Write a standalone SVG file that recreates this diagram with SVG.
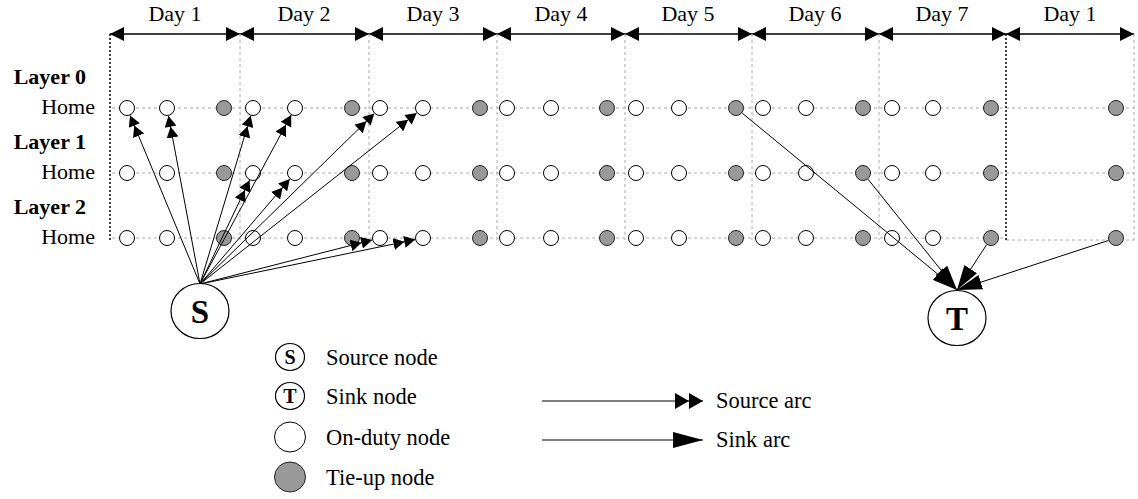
<svg xmlns="http://www.w3.org/2000/svg" width="1138" height="499" viewBox="0 0 1138 499" font-family="'Liberation Serif','Times New Roman',serif">
<style>
text{font-family:"Liberation Serif","Times New Roman",serif;fill:#000}
.lbl{font-size:22px}
.leg{font-size:22.5px}
.bold{font-weight:bold}
.grid{stroke:#aaa;stroke-width:1;stroke-dasharray:3,3;fill:none}
.blk{stroke:#000;stroke-width:1.5;stroke-dasharray:2,2;fill:none}
.hdr{stroke:#000;stroke-width:1.5;fill:none;marker-start:url(#hd);marker-end:url(#hd)}
.on{fill:#fff;stroke:#000;stroke-width:1}
.tie{fill:#999;stroke:#222;stroke-width:1}
.src{stroke:#000;stroke-width:1;fill:none;marker-end:url(#srcHead)}
.snk{stroke:#000;stroke-width:1;fill:none;marker-end:url(#snkHead)}
.lsrc{stroke:#000;stroke-width:1.2;fill:none;marker-end:url(#srcHeadL)}
.lsnk{stroke:#000;stroke-width:1.2;fill:none;marker-end:url(#snkHeadL)}
.big{fill:#fff;stroke:#000;stroke-width:1.2}
</style>
<defs>
<marker id="hd" markerUnits="userSpaceOnUse" markerWidth="14" markerHeight="14" refX="14" refY="7" orient="auto-start-reverse" viewBox="0 0 14 14"><path d="M0,0 L14,7 L0,14 Z" fill="#000"/></marker>
<marker id="srcHead" markerUnits="userSpaceOnUse" markerWidth="22" markerHeight="12" refX="22" refY="6" orient="auto" viewBox="0 0 22 12"><path d="M0,0 L11,6 L0,12 Z M11,0 L22,6 L11,12 Z" fill="#000"/></marker>
<marker id="snkHead" markerUnits="userSpaceOnUse" markerWidth="25" markerHeight="15" refX="25" refY="7.5" orient="auto" viewBox="0 0 25 15"><path d="M0,0 L25,7.5 L0,15 Z" fill="#000"/></marker>
<marker id="srcHeadL" markerUnits="userSpaceOnUse" markerWidth="28" markerHeight="16" refX="28" refY="8" orient="auto" viewBox="0 0 28 16"><path d="M0,0 L14,8 L0,16 Z M14,0 L28,8 L14,16 Z" fill="#000"/></marker>
<marker id="snkHeadL" markerUnits="userSpaceOnUse" markerWidth="30" markerHeight="16" refX="30" refY="8" orient="auto" viewBox="0 0 30 16"><path d="M0,0 L30,8 L0,16 Z" fill="#000"/></marker>
</defs>

<g id="header">
<text class="lbl" x="175" y="21" text-anchor="middle">Day 1</text>
<text class="lbl" x="304" y="21" text-anchor="middle">Day 2</text>
<text class="lbl" x="433" y="21" text-anchor="middle">Day 3</text>
<text class="lbl" x="561" y="21" text-anchor="middle">Day 4</text>
<text class="lbl" x="688" y="21" text-anchor="middle">Day 5</text>
<text class="lbl" x="815" y="21" text-anchor="middle">Day 6</text>
<text class="lbl" x="942" y="21" text-anchor="middle">Day 7</text>
<text class="lbl" x="1070" y="21" text-anchor="middle">Day 1</text>
<line class="hdr" x1="110" y1="34" x2="240" y2="34"/>
<line class="hdr" x1="240" y1="34" x2="369" y2="34"/>
<line class="hdr" x1="369" y1="34" x2="497" y2="34"/>
<line class="hdr" x1="497" y1="34" x2="625" y2="34"/>
<line class="hdr" x1="625" y1="34" x2="752" y2="34"/>
<line class="hdr" x1="752" y1="34" x2="879" y2="34"/>
<line class="hdr" x1="879" y1="34" x2="1006" y2="34"/>
<line class="hdr" x1="1006" y1="34" x2="1134" y2="34"/>
</g>

<g id="grid">
<line class="grid" x1="240" y1="34" x2="240" y2="240"/>
<line class="grid" x1="369" y1="34" x2="369" y2="240"/>
<line class="grid" x1="497" y1="34" x2="497" y2="240"/>
<line class="grid" x1="625" y1="34" x2="625" y2="240"/>
<line class="grid" x1="752" y1="34" x2="752" y2="240"/>
<line class="grid" x1="879" y1="34" x2="879" y2="240"/>
<line class="grid" x1="1134" y1="34" x2="1134" y2="240"/>
<line class="grid" x1="112" y1="108" x2="1134" y2="108"/>
<line class="grid" x1="112" y1="173" x2="1134" y2="173"/>
<line class="grid" x1="112" y1="238" x2="1006" y2="238"/>
<line class="grid" x1="1006" y1="240" x2="1134" y2="240"/>
<line class="blk" x1="110" y1="34" x2="110" y2="242"/>
<line class="blk" x1="1006" y1="34" x2="1006" y2="240"/>
</g>

<g id="layer-labels">
<text class="lbl bold" x="86" y="84" text-anchor="end">Layer 0</text>
<text class="lbl" x="95" y="114" text-anchor="end">Home</text>
<text class="lbl bold" x="86" y="149" text-anchor="end">Layer 1</text>
<text class="lbl" x="95" y="179" text-anchor="end">Home</text>
<text class="lbl bold" x="86" y="214" text-anchor="end">Layer 2</text>
<text class="lbl" x="95" y="244" text-anchor="end">Home</text>
</g>

<g id="nodes-layer0">
<g id="l0d1a"><circle class="on" cx="127" cy="108" r="7.5"/></g>
<g id="l0d1b"><circle class="on" cx="167" cy="108" r="7.5"/></g>
<g id="l0d1t"><circle class="tie" cx="224" cy="108" r="7.5"/></g>
<g id="l0d2a"><circle class="on" cx="253" cy="108" r="7.5"/></g>
<g id="l0d2b"><circle class="on" cx="295" cy="108" r="7.5"/></g>
<g id="l0d2t"><circle class="tie" cx="352" cy="108" r="7.5"/></g>
<g id="l0d3a"><circle class="on" cx="380" cy="108" r="7.5"/></g>
<g id="l0d3b"><circle class="on" cx="423" cy="108" r="7.5"/></g>
<g id="l0d3t"><circle class="tie" cx="480" cy="108" r="7.5"/></g>
<g id="l0d4a"><circle class="on" cx="507" cy="108" r="7.5"/></g>
<g id="l0d4b"><circle class="on" cx="551" cy="108" r="7.5"/></g>
<g id="l0d4t"><circle class="tie" cx="607" cy="108" r="7.5"/></g>
<g id="l0d5a"><circle class="on" cx="636" cy="108" r="7.5"/></g>
<g id="l0d5b"><circle class="on" cx="679" cy="108" r="7.5"/></g>
<g id="l0d5t"><circle class="tie" cx="736" cy="108" r="7.5"/></g>
<g id="l0d6a"><circle class="on" cx="763" cy="108" r="7.5"/></g>
<g id="l0d6b"><circle class="on" cx="806" cy="108" r="7.5"/></g>
<g id="l0d6t"><circle class="tie" cx="863" cy="108" r="7.5"/></g>
<g id="l0d7a"><circle class="on" cx="892" cy="108" r="7.5"/></g>
<g id="l0d7b"><circle class="on" cx="933" cy="108" r="7.5"/></g>
<g id="l0d7t"><circle class="tie" cx="991" cy="108" r="7.5"/></g>
<g id="l0d8t"><circle class="tie" cx="1116" cy="108" r="7.5"/></g>
</g>

<g id="nodes-layer1">
<g id="l1d1a"><circle class="on" cx="127" cy="173" r="7.5"/></g>
<g id="l1d1b"><circle class="on" cx="167" cy="173" r="7.5"/></g>
<g id="l1d1t"><circle class="tie" cx="224" cy="173" r="7.5"/></g>
<g id="l1d2a"><circle class="on" cx="253" cy="173" r="7.5"/></g>
<g id="l1d2b"><circle class="on" cx="295" cy="173" r="7.5"/></g>
<g id="l1d2t"><circle class="tie" cx="352" cy="173" r="7.5"/></g>
<g id="l1d3a"><circle class="on" cx="380" cy="173" r="7.5"/></g>
<g id="l1d3b"><circle class="on" cx="423" cy="173" r="7.5"/></g>
<g id="l1d3t"><circle class="tie" cx="480" cy="173" r="7.5"/></g>
<g id="l1d4a"><circle class="on" cx="507" cy="173" r="7.5"/></g>
<g id="l1d4b"><circle class="on" cx="551" cy="173" r="7.5"/></g>
<g id="l1d4t"><circle class="tie" cx="607" cy="173" r="7.5"/></g>
<g id="l1d5a"><circle class="on" cx="636" cy="173" r="7.5"/></g>
<g id="l1d5b"><circle class="on" cx="679" cy="173" r="7.5"/></g>
<g id="l1d5t"><circle class="tie" cx="736" cy="173" r="7.5"/></g>
<g id="l1d6a"><circle class="on" cx="763" cy="173" r="7.5"/></g>
<g id="l1d6b"><circle class="on" cx="806" cy="173" r="7.5"/></g>
<g id="l1d6t"><circle class="tie" cx="863" cy="173" r="7.5"/></g>
<g id="l1d7a"><circle class="on" cx="892" cy="173" r="7.5"/></g>
<g id="l1d7b"><circle class="on" cx="933" cy="173" r="7.5"/></g>
<g id="l1d7t"><circle class="tie" cx="991" cy="173" r="7.5"/></g>
<g id="l1d8t"><circle class="tie" cx="1116" cy="173" r="7.5"/></g>
</g>

<g id="nodes-layer2">
<g id="l2d1a"><circle class="on" cx="127" cy="238" r="7.5"/></g>
<g id="l2d1b"><circle class="on" cx="167" cy="238" r="7.5"/></g>
<g id="l2d1t"><circle class="tie" cx="224" cy="238" r="7.5"/></g>
<g id="l2d2a"><circle class="on" cx="253" cy="238" r="7.5"/></g>
<g id="l2d2b"><circle class="on" cx="295" cy="238" r="7.5"/></g>
<g id="l2d2t"><circle class="tie" cx="352" cy="238" r="7.5"/></g>
<g id="l2d3a"><circle class="on" cx="380" cy="238" r="7.5"/></g>
<g id="l2d3b"><circle class="on" cx="423" cy="238" r="7.5"/></g>
<g id="l2d3t"><circle class="tie" cx="480" cy="238" r="7.5"/></g>
<g id="l2d4a"><circle class="on" cx="507" cy="238" r="7.5"/></g>
<g id="l2d4b"><circle class="on" cx="551" cy="238" r="7.5"/></g>
<g id="l2d4t"><circle class="tie" cx="607" cy="238" r="7.5"/></g>
<g id="l2d5a"><circle class="on" cx="636" cy="238" r="7.5"/></g>
<g id="l2d5b"><circle class="on" cx="679" cy="238" r="7.5"/></g>
<g id="l2d5t"><circle class="tie" cx="736" cy="238" r="7.5"/></g>
<g id="l2d6a"><circle class="on" cx="763" cy="238" r="7.5"/></g>
<g id="l2d6b"><circle class="on" cx="806" cy="238" r="7.5"/></g>
<g id="l2d6t"><circle class="tie" cx="863" cy="238" r="7.5"/></g>
<g id="l2d7a"><circle class="on" cx="892" cy="238" r="7.5"/></g>
<g id="l2d7b"><circle class="on" cx="933" cy="238" r="7.5"/></g>
<g id="l2d7t"><circle class="tie" cx="991" cy="238" r="7.5"/></g>
<g id="l2d8t"><circle class="tie" cx="1116" cy="238" r="7.5"/></g>
</g>

<g id="connectors">
<line class="src" x1="200" y1="284" x2="130.1" y2="115.4"/>
<line class="src" x1="200" y1="284" x2="168.5" y2="115.9"/>
<line class="src" x1="200" y1="284" x2="250.7" y2="115.7"/>
<line class="src" x1="200" y1="284" x2="291.2" y2="115.0"/>
<line class="src" x1="200" y1="284" x2="374.3" y2="113.6"/>
<line class="src" x1="200" y1="284" x2="416.7" y2="113.0"/>
<line class="src" x1="200" y1="284" x2="249.6" y2="180.2"/>
<line class="src" x1="200" y1="284" x2="289.8" y2="179.1"/>
<line class="src" x1="200" y1="284" x2="372.2" y2="240.0"/>
<line class="src" x1="200" y1="284" x2="415.2" y2="239.6"/>
<line class="snk" x1="742.2" y1="113.1" x2="957" y2="290"/>
<line class="snk" x1="868" y1="179.2" x2="957" y2="290"/>
<line class="snk" x1="986.6" y1="244.7" x2="957" y2="290"/>
<line class="snk" x1="1108.4" y1="240.5" x2="957" y2="290"/>
</g>

<g id="S">
<ellipse class="big" cx="200" cy="311" rx="29" ry="27.5"/>
<text x="200" y="323" text-anchor="middle" font-size="33" font-weight="bold">S</text>
</g>
<g id="T">
<ellipse class="big" cx="957" cy="318" rx="29" ry="27.5"/>
<text x="957" y="330" text-anchor="middle" font-size="33" font-weight="bold">T</text>
</g>

<g id="legend">
<g id="leg-s"><ellipse class="big" cx="290" cy="357" rx="14.5" ry="13.5"/><text x="290" y="364" text-anchor="middle" font-size="20" font-weight="bold">S</text><text class="leg" x="326" y="365">Source node</text></g>
<g id="leg-t"><ellipse class="big" cx="290" cy="396" rx="14.5" ry="13.5"/><text x="290" y="403" text-anchor="middle" font-size="20" font-weight="bold">T</text><text class="leg" x="326" y="404">Sink node</text></g>
<g id="leg-on"><ellipse class="on" cx="290" cy="437" rx="15.5" ry="15"/><text class="leg" x="326" y="445">On-duty node</text></g>
<g id="leg-tie"><ellipse class="tie" cx="290" cy="477" rx="15.5" ry="15"/><text class="leg" x="326" y="485">Tie-up node</text></g>
<g id="leg-src"><line class="lsrc" x1="542" y1="401" x2="703" y2="401"/><text class="leg" x="716" y="408">Source arc</text></g>
<g id="leg-snk"><line class="lsnk" x1="542" y1="440" x2="703" y2="440"/><text class="leg" x="716" y="447">Sink arc</text></g>
</g>
</svg>
